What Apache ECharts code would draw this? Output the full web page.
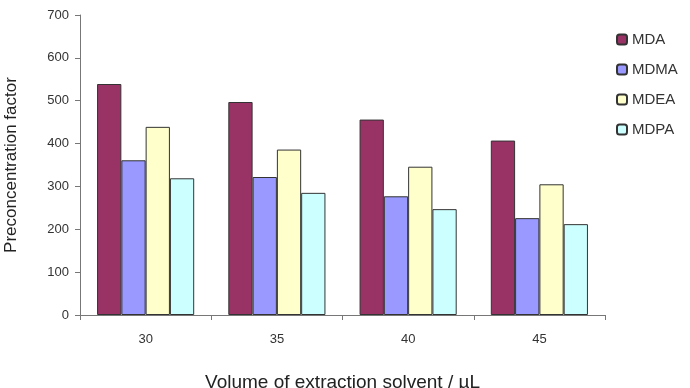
<!DOCTYPE html>
<html>
<head>
<meta charset="utf-8">
<script src="https://cdn.jsdelivr.net/npm/echarts@6/dist/echarts.min.js"></script>
<style>
  html, body { margin: 0; padding: 0; background: #fff; }
  #main { width: 690px; height: 388px; }
</style>
</head>
<body>
<div id="main"></div>
<script>
'use strict'

// volumes (µL)
const volumes = ['30', '35', '40', '45'];
const mda  = [539, 497, 456, 407];
const mdma = [361, 322, 277, 226];
const mdea = [439, 386, 346, 305];
const mdpa = [319, 285, 247, 212];

const names  = ['MDA', 'MDMA', 'MDEA', 'MDPA'];
const colors = ['#993366', '#9999ff', '#ffffcc', '#ccffff'];

let myChart = echarts.init(document.getElementById('main'));

let barSeries = [mda, mdma, mdea, mdpa].map(function (vals, i) {
    return {
        name: names[i],
        type: 'bar',
        data: vals,
        barGap: '0%',
        barCategoryGap: '26%',
        itemStyle: {
            color: colors[i],
            borderColor: '#333',
            borderWidth: 1
        }
    };
});

myChart.setOption({
    animation: false,
    backgroundColor: '#fff',
    textStyle: { fontFamily: 'Liberation Sans, Arial, sans-serif' },
    grid: { left: 80, right: 85, top: 15, bottom: 73, outerBoundsMode: 'none' },
    legend: {
        orient: 'vertical',
        left: 616,
        top: 32,
        padding: 0,
        itemWidth: 10,
        itemHeight: 10,
        itemGap: 15,
        data: names,
        textStyle: { color: '#333', fontSize: 15 }
    },
    xAxis: {
        type: 'category',
        data: volumes,
        name: 'Volume of extraction solvent / µL',
        nameLocation: 'middle',
        nameGap: 58,
        nameTextStyle: { color: '#222', fontSize: 19 },
        axisLine: { lineStyle: { color: '#777', width: 1 } },
        axisTick: { show: true, length: 5, lineStyle: { color: '#777' } },
        axisLabel: { color: '#333', fontSize: 13, margin: 18 }
    },
    yAxis: {
        type: 'value',
        min: 0,
        max: 700,
        interval: 100,
        name: 'Preconcentration factor',
        nameLocation: 'middle',
        nameGap: 60,
        nameTextStyle: { color: '#222', fontSize: 17 },
        axisLine: { show: true, lineStyle: { color: '#777', width: 1 } },
        axisTick: { show: true, length: 5, lineStyle: { color: '#777' } },
        axisLabel: { color: '#333', fontSize: 13, margin: 11 },
        splitLine: { show: false }
    },
    series: barSeries
});
</script>
</body>
</html>
